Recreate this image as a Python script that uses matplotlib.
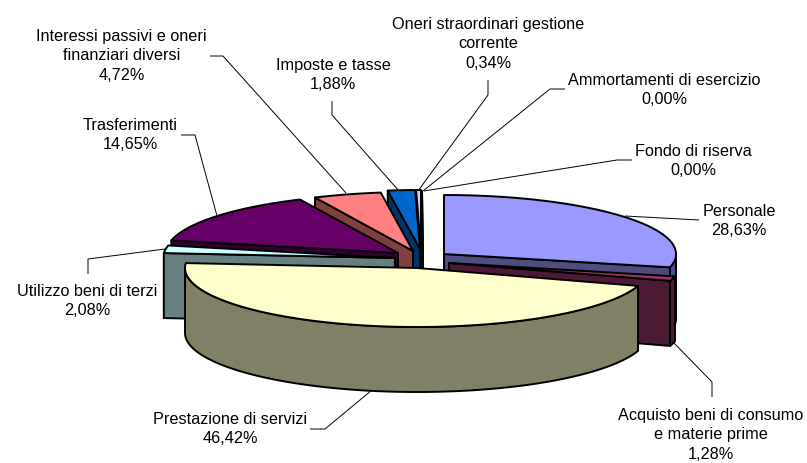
import numpy as np
import matplotlib
matplotlib.use("Agg")
import matplotlib.pyplot as plt
from matplotlib.patches import Polygon

plt.rcParams['font.family'] = ['Liberation Sans', 'DejaVu Sans']

# data, clockwise from 12 o'clock
categories = ["Personale", "Acquisto beni di consumo\ne materie prime", "Prestazione di servizi",
              "Utilizzo beni di terzi", "Trasferimenti", "Interessi passivi e oneri\nfinanziari diversi",
              "Imposte e tasse", "Oneri straordinari gestione\ncorrente", "Ammortamenti di esercizio",
              "Fondo di riserva"]
values = [28.63, 1.28, 46.42, 2.08, 14.65, 4.72, 1.88, 0.34, 0.00, 0.00]

# style
top_colors = ["#9999FF", "#993366", "#FFFFCC", "#CCFFFF", "#660066", "#FF8080", "#0066CC", "#CCCCFF", "#000080", "#FF00FF"]
wall_colors = ["#4D4D80", "#4D1A33", "#808066", "#668080", "#330033", "#804040", "#003366", "#666680", "#000040", "#800080"]

# layout: exploded slice apex in pixels
apex = [(444, 255), (449, 264), (417, 269), (395, 259), (398, 254), (413, 252), (420, 250), (421, 250), (421.5, 251), (422.5, 251)]
R, KR, H = 232, 59, 65
draw_order = [9, 8, 7, 6, 5, 4, 3, 0, 1, 2]
label_xy = [(739, 221), (711, 435), (230, 429), (87.5, 301), (130.5, 135), (121.5, 56), (333, 75), (488, 44), (664, 90), (693, 161)]
leaders = [[(625, 217), (699, 221)],
           [(673, 343), (712, 383), (712, 398)],
           [(372, 391), (325, 430), (310, 430)],
           [(165, 250), (88, 260), (88, 275)],
           [(217, 217), (195, 136), (181, 136)],
           [(346, 194), (223, 57), (210, 57)],
           [(399, 192), (332, 116), (332, 102)],
           [(418, 192), (488, 96), (488, 81)],
           [(423, 192), (550, 90), (565, 90)],
           [(424, 192), (617, 161), (632, 161)]]

fig = plt.figure(figsize=(8.07, 4.64), dpi=100)
ax = fig.add_axes([0, 0, 1, 1])
ax.set_xlim(0, 807)
ax.set_ylim(464, 0)
ax.axis('off')

edges = np.concatenate([[0], np.cumsum(values)]) / sum(values) * 2 * np.pi
LW = 1.4


def pt(c, a):
    return np.array([c[0] + R * np.sin(a), c[1] - KR * np.cos(a)])


for z, order in enumerate(draw_order):
    c, a0, a1 = apex[order], edges[order], edges[order + 1]
    style = dict(edgecolor='black', lw=LW, joinstyle='round', zorder=10 + z)
    drop = np.array([0, H])
    # radial walls facing the viewer only; a zero slice still leaves its edge line
    empty = values[order] == 0
    for a, faces_front in ((a0, empty or np.sin(a0) < -1e-9), (a1, np.sin(a1) > 1e-9)):
        if faces_front:
            p = pt(c, a)
            ax.add_patch(Polygon([c, p, p + drop, np.array(c) + drop], facecolor=wall_colors[order], **style))
    # outer wall on the front half of the arc
    lo, hi = max(a0, np.pi / 2), min(a1, 1.5 * np.pi)
    if hi > lo:
        t = np.linspace(lo, hi, 120)
        arc = np.array([pt(c, x) for x in t])
        ax.add_patch(Polygon(np.vstack([arc, arc[::-1] + drop]), facecolor=wall_colors[order], **style))
    # top face
    t = np.linspace(a0, a1, 160)
    arc = np.array([pt(c, x) for x in t])
    ax.add_patch(Polygon(np.vstack([[c], arc]), facecolor=top_colors[order], **style))

for i, name in enumerate(categories):
    xs, ys = zip(*leaders[i])
    ax.plot(xs, ys, color='black', lw=0.7, zorder=5 if i not in (1, 2) else 40, solid_capstyle='butt')
    txt = f"{name}\n{values[i]:.2f}".replace('.', ',') + "%"
    ax.text(label_xy[i][0], label_xy[i][1], txt, ha='center', va='center', fontsize=11.7,
            color='black', linespacing=1.38, zorder=50)

fig.savefig("out.png", dpi=100)
